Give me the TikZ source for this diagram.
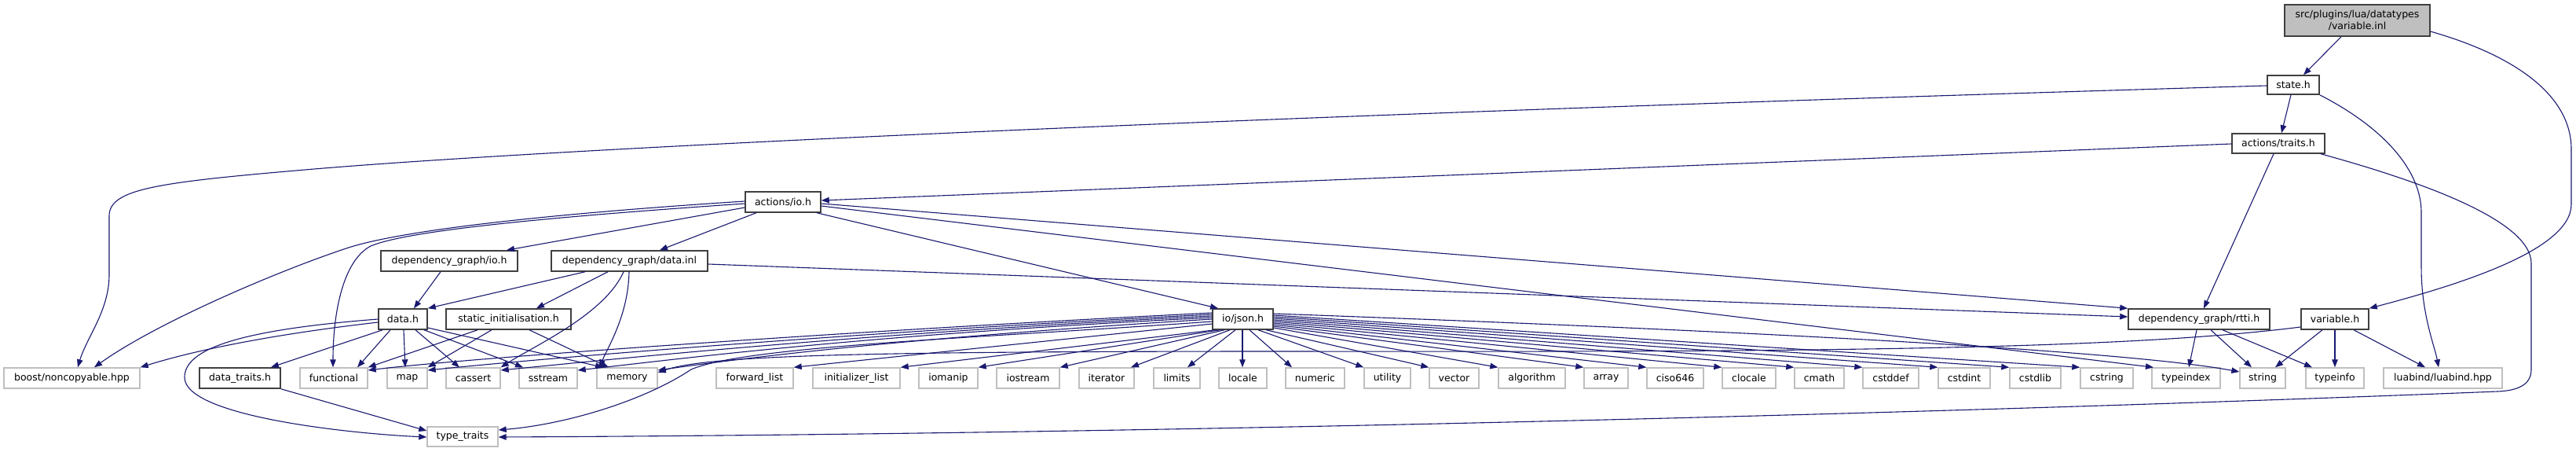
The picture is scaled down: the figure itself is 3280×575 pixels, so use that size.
\documentclass[tikz,border=0pt]{standalone}
\usepackage{fontspec}
\setmainfont{DejaVu Sans}
\usetikzlibrary{arrows.meta}
\definecolor{edgec}{RGB}{25,25,112}
\definecolor{greyb}{RGB}{191,191,191}
\definecolor{docb}{RGB}{64,64,64}
\newcommand\nd[7]{\node[#1, minimum width={(#5-#4)*1pt}, minimum height={(#7-#6)*1pt}] (#2) at ({(#4+#5)/2},{(#6+#7)/2}) {#3};}
\begin{document}
\begin{tikzpicture}[x=1pt,y=-1pt,
  box/.style={rectangle, inner sep=0pt, font=\fontsize{12.5}{14.5}\selectfont, align=center},
  docbox/.style={box, draw=docb, line width=1.5pt, fill=white},
  sysbox/.style={box, draw=greyb, line width=1.4pt, fill=white},
  rootbox/.style={box, draw=docb, line width=1.5pt, fill=greyb},
  edge/.style={draw=edgec, line width=1.1pt, -{Triangle[length=10pt,width=7.5pt]}}]
\useasboundingbox[fill=white] (0,0) rectangle (3280,575);
% nodes
\nd{rootbox}{top}{src/plugins/lua/datatypes\\/variable.inl}{2909}{3094}{6}{46}
\nd{docbox}{state}{state.h}{2887}{2953}{96}{120}
\nd{docbox}{traits}{actions/traits.h}{2842}{2960}{170}{195}
\nd{docbox}{aio}{actions/io.h}{949}{1045}{244}{270}
\nd{docbox}{dgio}{dependency\_graph/io.h}{485}{659}{319}{345}
\nd{docbox}{dginl}{dependency\_graph/data.inl}{702}{901}{319}{345}
\nd{docbox}{datah}{data.h}{482}{544}{393}{419}
\nd{docbox}{sinit}{static\_initialisation.h}{568}{727}{393}{419}
\nd{docbox}{json}{io/json.h}{1544}{1621}{393}{419}
\nd{docbox}{rtti}{dependency\_graph/rtti.h}{2710}{2890}{393}{419}
\nd{docbox}{varh}{variable.h}{2930}{3016}{393}{419}
\nd{sysbox}{boost}{boost/noncopyable.hpp}{5}{178}{468}{494}
\nd{docbox}{dtraits}{data\_traits.h}{254}{357}{468}{494}
\nd{sysbox}{functional}{functional}{382}{468}{468}{494}
\nd{sysbox}{map}{map}{493}{544}{468}{494}
\nd{sysbox}{cassert}{cassert}{568}{637}{468}{494}
\nd{sysbox}{sstream}{sstream}{661}{735}{468}{494}
\nd{sysbox}{memory}{memory}{760}{837}{468}{494}
\nd{sysbox}{fwdlist}{forward\_list}{912}{1010}{468}{494}
\nd{sysbox}{initlist}{initializer\_list}{1035}{1146}{468}{494}
\nd{sysbox}{iomanip}{iomanip}{1170}{1245}{468}{494}
\nd{sysbox}{iostream}{iostream}{1269}{1349}{468}{494}
\nd{sysbox}{iterator}{iterator}{1374}{1444}{468}{494}
\nd{sysbox}{limits}{limits}{1469}{1528}{468}{494}
\nd{sysbox}{locale}{locale}{1552}{1613}{468}{494}
\nd{sysbox}{numeric}{numeric}{1637}{1712}{468}{494}
\nd{sysbox}{utility}{utility}{1737}{1796}{468}{494}
\nd{sysbox}{vector}{vector}{1820}{1883}{468}{494}
\nd{sysbox}{algorithm}{algorithm}{1908}{1993}{468}{494}
\nd{sysbox}{array}{array}{2017}{2073}{468}{494}
\nd{sysbox}{ciso}{ciso646}{2097}{2169}{468}{494}
\nd{sysbox}{clocale}{clocale}{2193}{2261}{468}{494}
\nd{sysbox}{cmath}{cmath}{2285}{2348}{468}{494}
\nd{sysbox}{cstddef}{cstddef}{2372}{2443}{468}{494}
\nd{sysbox}{cstdint}{cstdint}{2468}{2534}{468}{494}
\nd{sysbox}{cstdlib}{cstdlib}{2559}{2624}{468}{494}
\nd{sysbox}{cstring}{cstring}{2649}{2716}{468}{494}
\nd{sysbox}{typeindex}{typeindex}{2740}{2827}{468}{494}
\nd{sysbox}{string}{string}{2852}{2910}{468}{494}
\nd{sysbox}{typeinfo}{typeinfo}{2936}{3010}{468}{494}
\nd{sysbox}{luabind}{luabind/luabind.hpp}{3035}{3186}{468}{494}
\nd{sysbox}{ttraits}{type\_traits}{544}{634}{543}{568}
% edges: root
\draw[edge] (top.south -| 2981,0) -- (state.north -| 2933,0);
\draw[edge] (top.east |- 0,40) .. controls (3200,70) and (3274,120) .. (3274,190) -- (3274,260) .. controls (3274,320) and (3120,365) .. (varh.north east);
% state.h
\draw[edge] (state.west |- 0,109) .. controls (1500,150) and (700,190) .. (400,215) .. controls (200,232) and (139,240) .. (139,275) -- (139,350) .. controls (139,395) and (110,430) .. (boost.north -| 99,0);
\draw[edge] (state.south -| 2917,0) -- (traits.north -| 2905,0);
\draw[edge] (state.south east) .. controls (3040,165) and (3083,220) .. (3083,270) -- (3083,340) .. controls (3083,400) and (3100,440) .. (luabind.north -| 3105,0);
% actions/traits.h
\draw[edge] (traits.west |- 0,183) -- (aio.east |- 0,255);
\draw[edge] (traits.south -| 2895,0) -- (rtti.north -| 2806,0);
\draw[edge] (traits.south -| 2955,0) .. controls (3080,230) and (3223,280) .. (3223,335) -- (3223,470) .. controls (3223,490) and (3205,497) .. (3180,498) .. controls (2500,525) and (1500,552) .. (ttraits.east |- 0,556);
% actions/io.h
\draw[edge] (aio.west |- 0,256) .. controls (700,272) and (520,292) .. (447,314) .. controls (360,342) and (200,410) .. (boost.north -| 120,0);
\draw[edge] (aio.west |- 0,259) .. controls (700,276) and (520,293) .. (472,313) .. controls (436,332) and (424,400) .. (functional.north -| 424,0);
\draw[edge] (aio.west |- 0,264) -- (dgio.north -| 645,0);
\draw[edge] (aio.south -| 963,0) -- (dginl.north -| 840,0);
\draw[edge] (aio.south -| 1040,0) -- (json.north -| 1551,0);
\draw[edge] (aio.east |- 0,259) -- (rtti.north west);
\draw[edge] (aio.east |- 0,262) -- (typeindex.north -| 2742,0);
% dependency_graph/io.h and data.inl
\draw[edge] (dgio.south -| 561,0) -- (datah.north -| 527,0);
\draw[edge] (dginl.south -| 745,0) -- (datah.north east);
\draw[edge] (dginl.south -| 774,0) -- (sinit.north -| 683,0);
\draw[edge] (dginl.south -| 794,0) .. controls (770,400) and (680,440) .. (cassert.north east);
\draw[edge] (dginl.south -| 801,0) .. controls (800,400) and (775,440) .. (memory.north -| 763,0);
\draw[edge] (dginl.east |- 0,336) -- (rtti.west |- 0,403);
% data.h
\draw[edge] (datah.west |- 0,410) .. controls (350,425) and (250,445) .. (boost.north east);
\draw[edge] (datah.south -| 487,0) -- (dtraits.north -| 345,0);
\draw[edge] (datah.west |- 0,406) .. controls (300,420) and (235,445) .. (235,480) .. controls (235,530) and (450,552) .. (ttraits.west |- 0,556);
\draw[edge] (datah.south -| 497,0) -- (functional.north -| 455,0);
\draw[edge] (datah.south -| 514,0) -- (map.north -| 516,0);
\draw[edge] (datah.south -| 529,0) -- (cassert.north -| 585,0);
\draw[edge] (datah.south -| 540,0) -- (sstream.north -| 666,0);
\draw[edge] (datah.east |- 0,417) -- (memory.north -| 768,0);
% static_initialisation.h
\draw[edge] (sinit.south -| 608,0) -- (functional.north east);
\draw[edge] (sinit.south -| 626,0) -- (map.north east);
\draw[edge] (sinit.south -| 674,0) -- (memory.north -| 775,0);
% data_traits.h
\draw[edge] (dtraits.south east) -- (ttraits.west |- 0,548);
% io/json.h left
\draw[edge] (json.west |- 0,398) .. controls (1100,420) and (600,455) .. (functional.east |- 0,471);
\draw[edge] (json.west |- 0,400) .. controls (1100,422) and (700,455) .. (map.east |- 0,471);
\draw[edge] (json.west |- 0,402) .. controls (1100,424) and (800,455) .. (cassert.east |- 0,471);
\draw[edge] (json.west |- 0,404) .. controls (1100,426) and (880,455) .. (sstream.east |- 0,471);
\draw[edge] (json.west |- 0,406) .. controls (1150,430) and (950,455) .. (memory.east |- 0,471);
\draw[edge] (json.west |- 0,409) .. controls (1250,430) and (950,440) .. (880,470) .. controls (820,510) and (720,540) .. (ttraits.east |- 0,547);
\draw[edge] (json.west |- 0,412) -- (fwdlist.north east);
\draw[edge] (json.south -| 1547,0) -- (initlist.north east);
\draw[edge] (json.south -| 1553,0) -- (iomanip.north east);
\draw[edge] (json.south -| 1559,0) -- (iostream.north east);
\draw[edge] (json.south -| 1566,0) -- (iterator.north -| 1440,0);
\draw[edge] (json.south -| 1573,0) -- (limits.north -| 1512,0);
\draw[edge] (json.south -| 1582,0) -- (locale.north -| 1582,0);
% io/json.h right
\draw[edge] (json.south -| 1591,0) -- (numeric.north -| 1645,0);
\draw[edge] (json.south -| 1602,0) -- (utility.north west);
\draw[edge] (json.south -| 1612,0) -- (vector.north west);
\draw[edge] (json.east |- 0,417) -- (algorithm.north west);
\draw[edge] (json.east |- 0,415) -- (array.north west);
\draw[edge] (json.east |- 0,413) -- (ciso.north west);
\draw[edge] (json.east |- 0,411) -- (clocale.north west);
\draw[edge] (json.east |- 0,409) -- (cmath.north west);
\draw[edge] (json.east |- 0,407) -- (cstddef.north west);
\draw[edge] (json.east |- 0,405) -- (cstdint.north west);
\draw[edge] (json.east |- 0,403) -- (cstdlib.north west);
\draw[edge] (json.east |- 0,401) -- (cstring.north west);
\draw[edge] (json.east |- 0,399) .. controls (2200,420) and (2700,445) .. (string.west |- 0,473);
% rtti
\draw[edge] (rtti.south -| 2797,0) -- (typeindex.north -| 2787,0);
\draw[edge] (rtti.south -| 2815,0) -- (string.north -| 2867,0);
\draw[edge] (rtti.south -| 2830,0) -- (typeinfo.north -| 2944,0);
% variable.h
\draw[edge] (varh.south -| 2957,0) -- (string.north -| 2897,0);
\draw[edge] (varh.south -| 2973,0) -- (typeinfo.north -| 2973,0);
\draw[edge] (varh.south -| 2997,0) -- (luabind.north -| 3088,0);
\draw[edge] (varh.west |- 0,416) .. controls (2700,445) and (2300,448) .. (1640,447) .. controls (1100,447) and (900,452) .. (memory.east |- 0,474);
\end{tikzpicture}
\end{document}
